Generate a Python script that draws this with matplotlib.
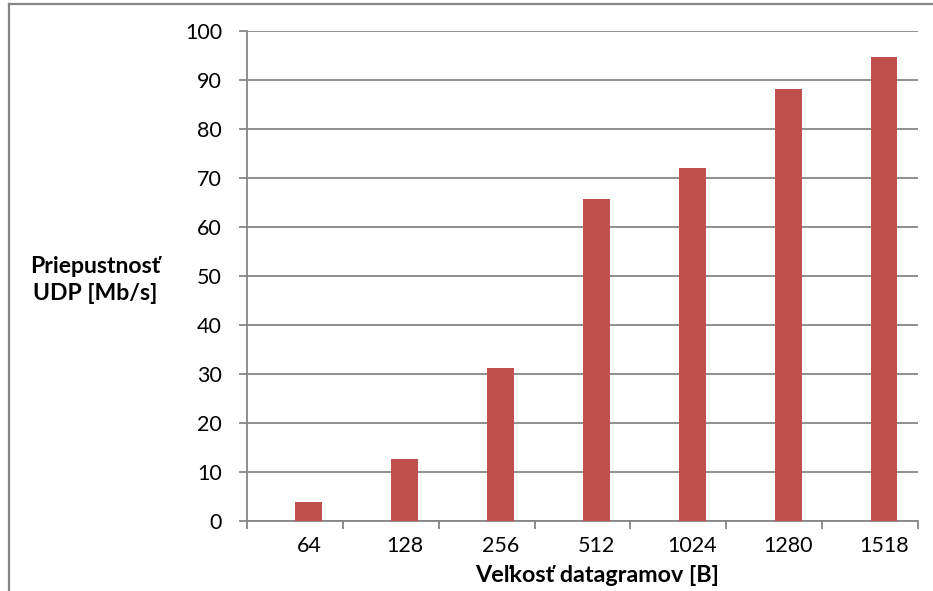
import matplotlib
matplotlib.use("Agg")
import matplotlib.pyplot as plt
from matplotlib.lines import Line2D
import numpy as np

plt.rcParams['font.family'] = ['Lato', 'DejaVu Sans']

# UDP throughput per datagram size
sizes = ["64", "128", "256", "512", "1024", "1280", "1518"]
throughput = [3.8, 12.6, 31.3, 65.8, 72.1, 88.1, 94.6]
y_ticks = [0, 10, 20, 30, 40, 50, 60, 70, 80, 90, 100]

bar_color = "#C0504D"
line_gray = "#868686"

fig = plt.figure(figsize=(9.33, 5.91), dpi=100)
ax = fig.add_axes([247 / 933, 1 - 521 / 591, (918 - 247) / 933, (521 - 31) / 591])

n = len(sizes)
centers = np.arange(n) + 0.5 + 0.145
ax.bar(centers, throughput, width=0.28, color=bar_color, zorder=3)

ax.set_xlim(0, n)
ax.set_ylim(0, 100)

# horizontal gridlines
ax.set_yticks(y_ticks)
ax.set_yticklabels([str(t) for t in y_ticks], fontsize=15.5)
ax.yaxis.grid(True, color=line_gray, linewidth=1.3, zorder=0)
ax.tick_params(axis='y', length=6, width=1.3, color=line_gray, pad=12, labelcolor="black")

# category boundaries carry the tick marks, labels sit under the bars
ax.set_xticks(np.arange(n + 1), minor=True)
ax.set_xticks(centers)
ax.set_xticklabels(sizes, fontsize=15.5)
ax.tick_params(axis='x', which='major', length=0, pad=11)
ax.tick_params(axis='x', which='minor', length=6, width=1.3, color=line_gray)

for side in ("top", "right"):
    ax.spines[side].set_visible(False)
for side in ("left", "bottom"):
    ax.spines[side].set_color(line_gray)
    ax.spines[side].set_linewidth(1.3)

fig.text(95 / 933, 1 - 280 / 591, "Priepustnosť\nUDP [Mb/s]", ha="center", va="center",
         fontsize=16.6, fontweight="bold", linespacing=1.3)
fig.text(597 / 933, 1 - 575 / 591, "Veľkosť datagramov [B]", ha="center", va="center",
         fontsize=16.8, fontweight="bold")

# outer chart frame
fig.add_artist(Line2D([9 / 933, 9 / 933], [0, 1 - 3.8 / 591], transform=fig.transFigure,
                      color=line_gray, linewidth=1.6))
fig.add_artist(Line2D([9 / 933, 1], [1 - 3.8 / 591, 1 - 3.8 / 591], transform=fig.transFigure,
                      color=line_gray, linewidth=1.6))

fig.savefig("out.png", dpi=100)
